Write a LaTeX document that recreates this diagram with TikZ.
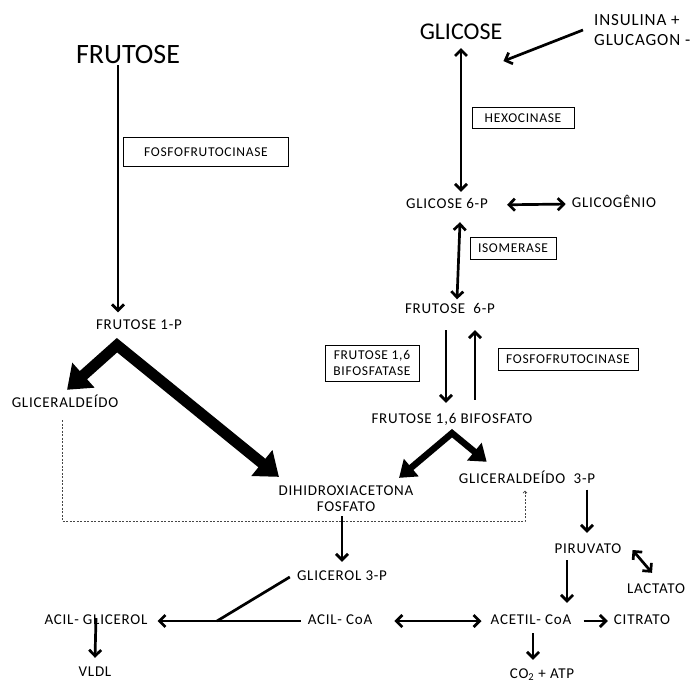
\documentclass[tikz,border=0pt]{standalone}
\usepackage{fontspec}
\setmainfont{Carlito}
\newfontfamily\lblfont[LetterSpace=5]{Carlito}
\newfontfamily\bigfont{Carlito}
\usetikzlibrary{arrows.meta}

\begin{document}
\begin{tikzpicture}[
    x=1pt, y=-1pt,
    lbl/.style={inner sep=1pt, text height=10pt, text depth=3pt, font=\lblfont\fontsize{15}{16}\selectfont},
    two/.style={inner sep=1pt, align=center, font=\lblfont\fontsize{15}{16}\selectfont},
    big/.style={inner sep=1pt, font=\bigfont\fontsize{28}{32}\selectfont},
    mid/.style={inner sep=1pt, font=\bigfont\fontsize{24}{28}\selectfont},
    hor/.style={inner sep=1pt, align=left, font=\lblfont\fontsize{17}{20}\selectfont},
    enz/.style={rectangle, draw, line width=0.9pt, align=center, font=\lblfont\fontsize{13.5}{16}\selectfont},
    arr/.style={-{Straight Barb[length=6pt,width=12pt]}, line width=2.7pt},
    dbl/.style={{Straight Barb[length=6pt,width=12pt]}-{Straight Barb[length=6pt,width=12pt]}, line width=2.7pt},
    fatA/.style={{Triangle[length=22pt,width=32pt]}-{Triangle[length=22pt,width=32pt]}, line width=11pt, line join=miter},
    fatB/.style={{Triangle[length=16pt,width=22pt]}-{Triangle[length=16pt,width=22pt]}, line width=6.5pt, line join=miter},
    dsh/.style={-{Straight Barb[length=2pt,width=4pt]}, line width=0.7pt, gray!55!black, dash pattern=on 2pt off 1.5pt}
  ]
    \useasboundingbox (0,0) rectangle (693,683);

    % frutose branch
    \node[big] (fru) at (128,55) {FRUTOSE};
    \node[enz, minimum width=165pt, minimum height=29pt] (pfk1) at (206,152) {FOSFOFRUTOCINASE};
    \node[lbl] (f1p) at (139,326) {FRUTOSE 1-P};
    \node[lbl] (gal) at (65,404) {GLICERALDEÍDO};
    \node[two] (dhap) at (346,499) {DIHIDROXIACETONA\\FOSFATO};

    % glicose branch
    \node[mid] (glc) at (461,32) {GLICOSE};
    \node[hor, anchor=west] (horm) at (593,30) {INSULINA +\\GLUCAGON -};
    \node[enz, minimum width=102pt, minimum height=21pt] (hex) at (523,118) {HEXOCINASE};
    \node[lbl] (g6p) at (447,205) {GLICOSE 6-P};
    \node[lbl] (glyc) at (614,204) {GLICOGÊNIO};
    \node[enz, minimum width=86pt, minimum height=22pt] (iso) at (513,248) {ISOMERASE};
    \node[lbl] (f6p) at (450,310) {FRUTOSE\ \ 6-P};
    \node[enz, minimum width=94pt, minimum height=36pt] (fbpase) at (372,363) {FRUTOSE 1,6\\BIFOSFATASE};
    \node[enz, minimum width=140pt, minimum height=22pt] (pfk2) at (568,359) {FOSFOFRUTOCINASE};
    \node[lbl] (f16bp) at (452,420) {FRUTOSE 1,6 BIFOSFATO};
    \node[lbl] (g3p) at (527,480) {GLICERALDEÍDO\ \ 3-P};
    \node[lbl] (pir) at (588,550) {PIRUVATO};
    \node[lbl] (lac) at (656,590) {LACTATO};

    % bottom row
    \node[lbl] (gol) at (342,577) {GLICEROL 3-P};
    \node[lbl] (acg) at (96,621) {ACIL- GLICEROL};
    \node[lbl] (acoa) at (340,621) {ACIL- CoA};
    \node[lbl] (actc) at (531,621) {ACETIL- CoA};
    \node[lbl] (cit) at (642,621) {CITRATO};
    \node[lbl] (vldl) at (95,673) {VLDL};
    \node[lbl] (co2) at (542,675) {CO\textsubscript{2} + ATP};
    \coordinate (mrg) at (217,621);

    \draw[arr] ([xshift=-10pt]fru.south) -- ([xshift=-21pt,yshift=6pt]f1p.north);
    \draw[fatA] ([xshift=2pt,yshift=6.5pt]gal.north) -- ([xshift=-22pt,yshift=-11.5pt]f1p.south) -- ([xshift=1.5pt,yshift=8pt]dhap.north west);
    \draw[dsh] ([xshift=-3pt,yshift=-8.5pt]gal.south) |- ([xshift=-2pt,yshift=-33.5pt]g3p.south) -- ([xshift=-2pt,yshift=-3pt]g3p.south);

    \draw[arr] ([xshift=-10pt]horm.west) -- ([yshift=-20pt]glc.south east);
    \draw[dbl] ([yshift=-7pt]glc.south) -- ([xshift=14pt,yshift=5.5pt]g6p.north);
    \draw[dbl, shorten <=18pt, shorten >=5pt] (g6p.east) -- (glyc.west);
    \draw[dbl] ([xshift=13pt,yshift=-9.5pt]g6p.south) -- ([xshift=7pt,yshift=3pt]f6p.north);
    \draw[arr] ([xshift=-4pt,yshift=-12.5pt]f6p.south) -- ([xshift=-6pt,yshift=9.5pt]f16bp.north);
    \draw[arr] ([xshift=23pt,yshift=12.5pt]f16bp.north) -- ([xshift=25pt,yshift=-12.5pt]f6p.south);
    \draw[fatB] ([xshift=-15.5pt,yshift=7pt]dhap.north east) -- ([yshift=-5.5pt]f16bp.south) -- ([xshift=29pt,yshift=10.5pt]g3p.north west);
    \draw[arr] ([xshift=60pt,yshift=-2pt]g3p.south) -- ([xshift=-1pt,yshift=9.5pt]pir.north);
    \draw[arr] ([xshift=-21pt,yshift=-2.5pt]pir.south) -- ([xshift=36pt,yshift=10.5pt]actc.north);
    \draw[dbl] ([xshift=10pt]pir.east) -- ([xshift=-4pt,yshift=9.5pt]lac.north);

    \draw[arr] ([xshift=-4pt,yshift=-3pt]dhap.south) -- ([yshift=7.5pt]gol.north);
    \draw[line width=2.7pt] ([xshift=-6pt]gol.west) -- (mrg);
    \draw[arr] ([xshift=-6pt]acoa.west) -- ([xshift=9pt]acg.east);
    \draw[arr] ([yshift=3pt]acg.center) -- ([yshift=7.5pt]vldl.north);
    \draw[dbl, shorten <=21pt, shorten >=8pt] (acoa.east) -- (actc.west);
    \draw[arr, shorten <=11pt, shorten >=5pt] (actc.east) -- (cit.west);
    \draw[arr] ([xshift=2pt,yshift=-4.5pt]actc.south) -- ([xshift=-9pt,yshift=7.5pt]co2.north);

  \end{tikzpicture}
\end{document}
